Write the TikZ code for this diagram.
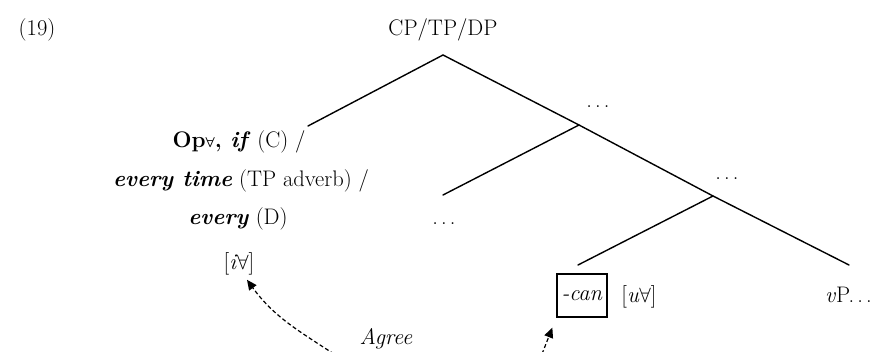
\documentclass[tikz,border=0pt]{standalone}
\usepackage{amsmath}
\usetikzlibrary{arrows.meta,calc}
\newcommand{\sdots}{.\kern0.14em.\kern0.14em.}
\begin{document}
\begin{tikzpicture}[x=1pt,y=1pt,
  txt/.style={font=\fontsize{22.5}{27}\selectfont, inner sep=1pt, anchor=base},
  branch/.style={line width=1.4pt, line cap=round},
  agree/.style={line width=1.2pt, dash pattern=on 4pt off 2.5pt, -{Triangle[length=10pt,width=9pt]}},
  boxed/.style={draw, line width=1.3pt, minimum width=50pt, minimum height=43pt, inner sep=0pt, anchor=center, font=\fontsize{22.5}{27}\selectfont}]
\useasboundingbox (0,0) rectangle (880,-352);
% top labels
\node[txt] (ex) at (37,-36) {(19)};
\node[txt] (root) at (443,-36) {CP/TP/DP};
% branch points
\coordinate (apex) at (443,-55);
\coordinate (leftend) at (308,-126);
\coordinate (b1) at (579,-125);
\coordinate (b1l) at (443,-195);
\coordinate (b2) at (713,-196);
\coordinate (b2l) at (578,-265);
\coordinate (b2r) at (849,-265);
% left block
\node[txt] (op) at (239,-148) {\textbf{Op}\raisebox{0pt}{\fontsize{15}{15}\selectfont$\boldsymbol{\forall}$}\textbf{, \textit{if}} (C) /};
\node[txt] (et) at (241,-187) {\textbf{\textit{every time}} (TP adverb) /};
\node[txt] (ed) at (238,-225) {\textbf{\textit{every}} (D)};
\node[txt] (ifeat) at (239,-270) {[\textit{i}$\forall$]};
% dots
\node[txt] (dots1) at (598,-108) {\sdots};
\node[txt] (dots2) at (444,-225) {\sdots};
\node[txt] (dots3) at (727,-180) {\sdots};
% bottom row
\node[boxed] (can) at (582,-295.5) {\textit{-can}};
\node[txt] (uf) at (639,-302) {[\textit{u}$\forall$]};
\node[txt, anchor=base west] (vp) at (824,-302) {\textit{v}P\sdots};
\node[txt] (ag) at (386,-344) {\textit{Agree}};
% tree
\draw[branch] (leftend) -- (apex) -- (b1) -- (b2) -- (b2r);
\draw[branch] (b1) -- (b1l);
\draw[branch] (b2) -- (b2l);
% agree arrows
\coordinate (a1s) at (334,-354);
\coordinate (a2s) at (542,-354);
\draw[agree] (a1s) to[out=147,in=-54] ($(ifeat.south)+(8,-3)$);
\draw[agree] (a2s) -- ($(can.south west)+(-4,-10)$);
\end{tikzpicture}
\end{document}
